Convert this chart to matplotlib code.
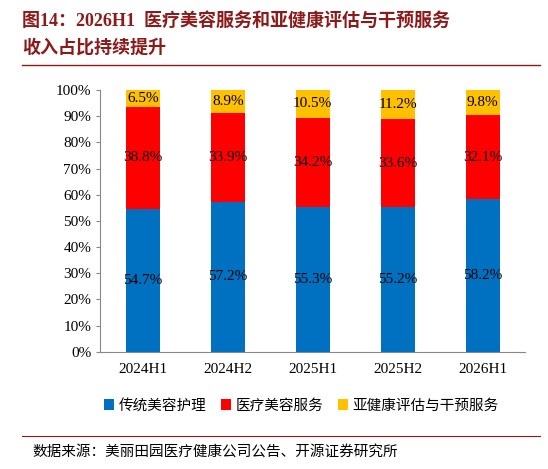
import matplotlib
matplotlib.use("Agg")
import matplotlib.pyplot as plt
import numpy as np

plt.rcParams['font.family'] = ['Liberation Serif', 'Noto Sans CJK SC']

categories = ["2024H1", "2024H2", "2025H1", "2025H2", "2026H1"]
traditional = [54.7, 57.2, 55.3, 55.2, 58.2]
medical = [38.8, 33.9, 34.2, 33.6, 32.1]
subhealth = [6.5, 8.9, 10.5, 11.2, 9.8]
series_names = ["传统美容护理", "医疗美容服务", "亚健康评估与干预服务"]
colors = ["#0070C0", "#FF0000", "#FFC000"]

fig = plt.figure(figsize=(5.48, 4.69), dpi=100)
ax = fig.add_axes([0.183, 0.25, 0.775, 0.558])

x = np.arange(len(categories))
w = 0.4
b1 = ax.bar(x, traditional, w, color=colors[0], label=series_names[0])
b2 = ax.bar(x, medical, w, bottom=traditional, color=colors[1], label=series_names[1])
bot3 = np.array(traditional) + np.array(medical)
b3 = ax.bar(x, subhealth, w, bottom=bot3, color=colors[2], label=series_names[2])

for i in range(len(x)):
    ax.text(x[i], traditional[i] / 2, f"{traditional[i]}%", ha='center', va='center', fontsize=11)
    ax.text(x[i], traditional[i] + medical[i] / 2, f"{medical[i]}%", ha='center', va='center', fontsize=11)
    ax.text(x[i], bot3[i] + subhealth[i] / 2, f"{subhealth[i]}%", ha='center', va='center', fontsize=11)

ax.set_ylim(0, 100)
ax.set_xlim(-0.5, len(x) - 0.5)
ax.set_yticks(range(0, 101, 10))
ax.set_yticklabels([f"{v}%" for v in range(0, 101, 10)], fontsize=11)
ax.set_xticks(x)
ax.set_xticklabels(categories, fontsize=11)
for s in ['top', 'right']:
    ax.spines[s].set_visible(False)
ax.spines['left'].set_color('#888888')
ax.spines['bottom'].set_color('#888888')
ax.tick_params(axis='x', length=0, pad=8)
ax.tick_params(axis='y', length=3, color='#888888')

fig.legend(handles=[b1, b2, b3], labels=series_names, loc='center', bbox_to_anchor=(0.55, 0.135),
           ncol=3, frameon=False, handlelength=0.7, handleheight=0.7,
           columnspacing=1.0, handletextpad=0.3, prop={'family': ['Noto Sans CJK SC'], 'size': 10.5})

fig.text(0.04, 0.955, "图14：2026H1  医疗美容服务和亚健康评估与干预服务", fontsize=13, fontweight='bold',
         color='#8B1A1A', family=['Liberation Serif', 'Noto Sans CJK SC'], va='center')
fig.text(0.04, 0.9, "收入占比持续提升", fontsize=13, fontweight='bold',
         color='#8B1A1A', family=['Noto Sans CJK SC'], va='center')
fig.add_artist(plt.Line2D([0.04, 0.985], [0.862, 0.862], color='#8B1A1A', lw=1))
fig.add_artist(plt.Line2D([0.04, 0.985], [0.07, 0.07], color='#8B1A1A', lw=0.8))
fig.text(0.06, 0.035, "数据来源：美丽田园医疗健康公司公告、开源证券研究所", fontsize=10.5,
         family=['Noto Sans CJK SC'], va='center')

fig.savefig("out.png", dpi=100)
